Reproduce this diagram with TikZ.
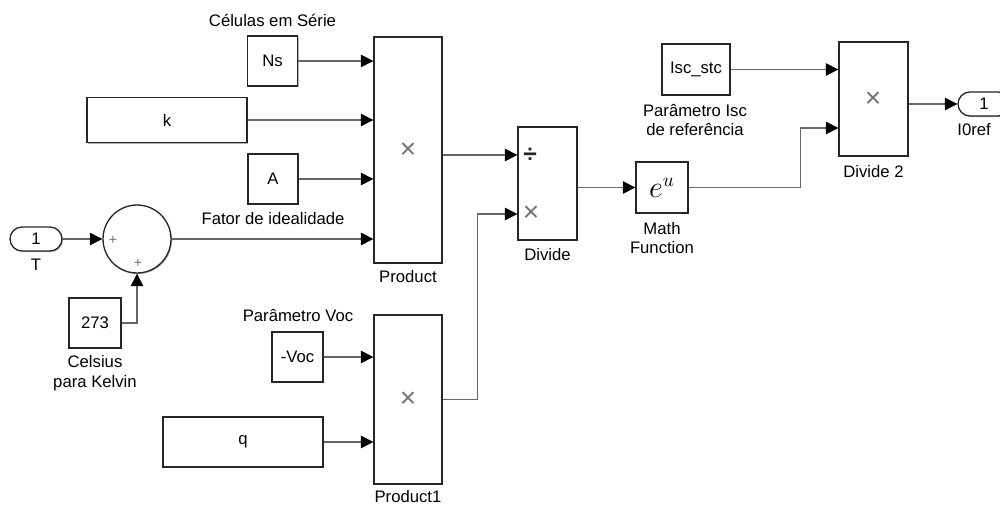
\documentclass[tikz,border=0pt]{standalone}
\usepackage{fontspec}
\setmainfont{Liberation Sans}
\usetikzlibrary{arrows.meta,shadows}

\begin{document}
\begin{tikzpicture}[x=0.02cm,y=-0.02cm,
    >={Triangle[length=0.25cm,width=0.25cm,black]},
    font=\fontsize{9.5}{11.3}\selectfont,
    blk/.style={draw=black!85,line width=0.75pt,fill=white,inner sep=0pt,
      general shadow={fill=black!30,shadow xshift=0.6pt,shadow yshift=-0.6pt}},
    port/.style={blk,rounded corners=0.24cm},
    sig/.style={->,draw=black!60,line width=0.6pt},
    lbl/.style={inner sep=0pt},
    sgn/.style={text=black!55,inner sep=0pt,font=\fontsize{16}{16}\selectfont}]
        \useasboundingbox (0,0) rectangle (1000,506);
        \clip (0,0) rectangle (1000,506);

        % blocks
        \node (ns) [blk, minimum width=1cm, minimum height=1cm] at (272.5,61) {Ns};
        \node (k) [blk, minimum width=3.2cm, minimum height=0.9cm] at (167,120) {k};
        \node (a) [blk, minimum width=1cm, minimum height=1cm] at (273,179) {A};
        \node (prod) [blk, minimum width=1.36cm, minimum height=4.52cm] at (408,150) {};
        \node (tin) [port, minimum width=1.04cm, minimum height=0.48cm] at (36,239) {1};
        \node (sum) [blk, circle, minimum size=1.36cm] at (137,239) {};
        \node (c273) [blk, minimum width=1.04cm, minimum height=1cm] at (95,323) {273};
        \node (voc) [blk, minimum width=1.02cm, minimum height=1cm] at (297.5,357) {-Voc};
        \node (q) [blk, minimum width=3.2cm, minimum height=1cm] at (243,442) {q};
        \node (prod1) [blk, minimum width=1.36cm, minimum height=3.38cm] at (408,399.5) {};
        \node (div) [blk, minimum width=1.18cm, minimum height=2.26cm] at (547.5,183.5) {};
        \node (expf) [blk, minimum width=1.04cm, minimum height=1.02cm] at (662,187.5) {\fontsize{16}{16}\selectfont$e^u$};
        \node (isc) [blk, minimum width=1.36cm, minimum height=1.02cm] at (696,69.5) {Isc\_stc};
        \node (div2) [blk, minimum width=1.38cm, minimum height=2.28cm] at (873.5,99) {};
        \node (iout) [port, minimum width=1.04cm, minimum height=0.48cm] at (984,104) {1};

        % operator signs
        \node (prod-x) [sgn] at (408,151) {×};
        \node (prod1-x) [sgn] at (408,400) {×};
        \node (div-op1) [sgn, text=black!85, font=\fontsize{14}{14}\selectfont\bfseries] at (530,155) {÷};
        \node (div-op2) [sgn] at (531,214) {×};
        \node (div2-x) [sgn] at (873,100) {×};
        \node (sum-p1) [sgn, font=\fontsize{8}{8}\selectfont] at (113,240) {+};
        \node (sum-p2) [sgn, font=\fontsize{8}{8}\selectfont] at (138,263) {+};

        % labels
        \node (ns-lbl) [lbl] at (272.5,20) {Células em Série};
        \node (a-lbl) [lbl] at (273,219) {Fator de idealidade};
        \node (tin-lbl) [lbl] at (36,265) {T};
        \node (c273-lbl) [lbl, align=center] at (95,373) {Celsius\\para Kelvin};
        \node (prod-lbl) [lbl] at (408,277) {Product};
        \node (prod1-lbl) [lbl] at (408,497) {Product1};
        \node (voc-lbl) [lbl] at (298,316) {Parâmetro Voc};
        \node (div-lbl) [lbl] at (547.5,255) {Divide};
        \node (expf-lbl) [lbl, align=center] at (662,238) {Math\\Function};
        \node (isc-lbl) [lbl, align=center] at (695,120) {Parâmetro Isc\\de referência};
        \node (div2-lbl) [lbl] at (873.5,172) {Divide 2};
        \node (iout-lbl) [lbl, anchor=west] at (957,130) {I0ref};

        % port points
        \coordinate (div-in1) at (div.west |- 0,155);
        \coordinate (div-in2) at (div.west |- 0,214);
        \coordinate (div2-in2) at (div2.west |- 0,128);

        % signals
        \draw[sig] (tin) -- (sum);
        \draw[sig] (c273.east) -| (sum.south);
        \draw[sig] (ns) -- (ns -| prod.west);
        \draw[sig] (k) -- (k -| prod.west);
        \draw[sig] (a) -- (a -| prod.west);
        \draw[sig] (sum) -- (sum -| prod.west);
        \draw[sig] (prod.east |- div-in1) -- (div-in1);
        \draw[sig] (voc) -- (voc -| prod1.west);
        \draw[sig] (q) -- (q -| prod1.west);
        \draw[sig] (prod1.east) -- ++(35,0) |- (div-in2);
        \draw[sig] (div.east |- expf.west) -- (expf.west);
        \draw[sig] (expf.east) -- ++(112,0) |- (div2-in2);
        \draw[sig] (isc) -- (isc -| div2.west);
        \draw[sig] (div2.east |- iout.west) -- (iout.west);
    \end{tikzpicture}
\end{document}
